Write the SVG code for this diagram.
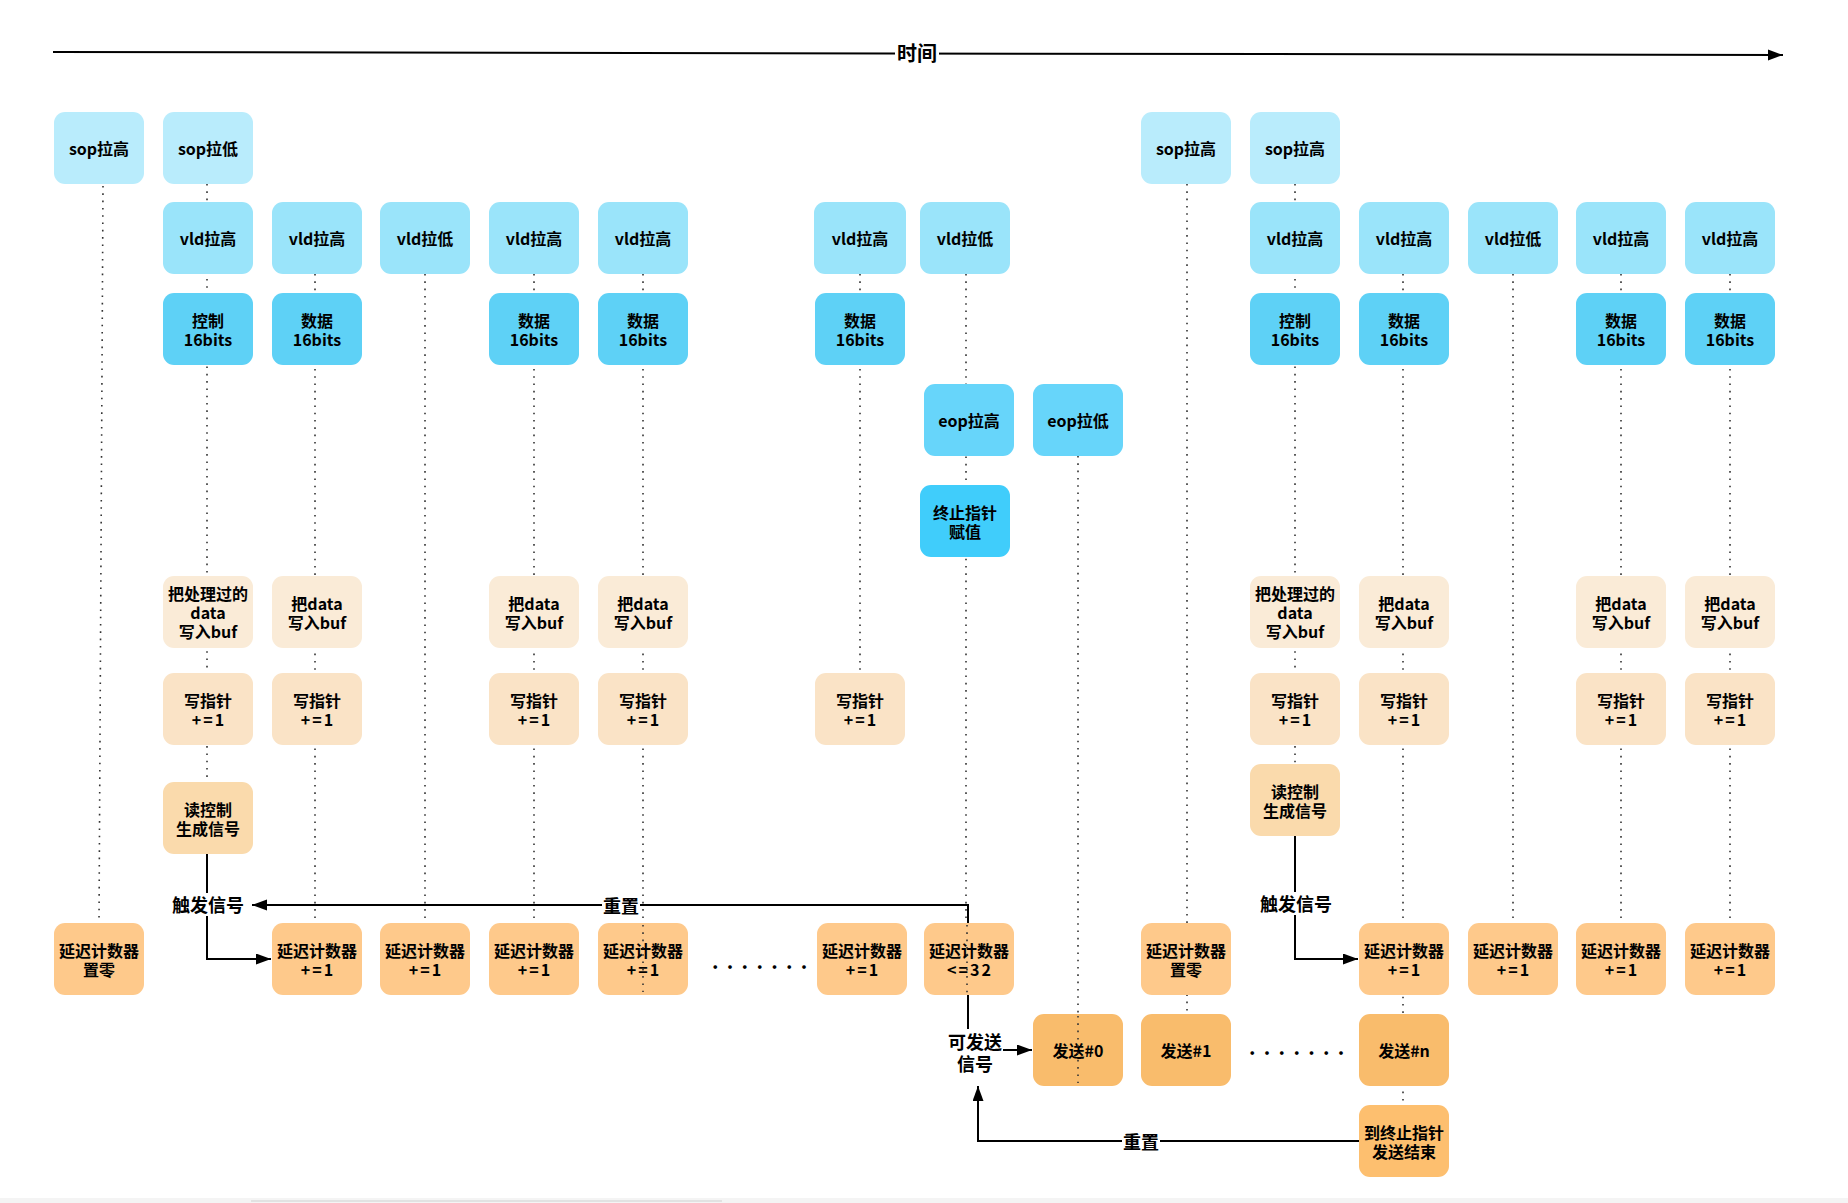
<svg xmlns="http://www.w3.org/2000/svg" width="1848" height="1203" viewBox="0 0 1848 1203">
  <style>
    .t { font-family: "Noto Sans CJK SC", "Noto Sans", sans-serif; font-size: 16px; font-weight: bold; fill: #000; text-anchor: middle; dominant-baseline: central; }
    .lbl { font-family: "Noto Sans CJK SC", "Noto Sans", sans-serif; font-size: 18px; font-weight: bold; fill: #000; text-anchor: middle; dominant-baseline: central; }
    .sp { letter-spacing: 2px; }
    .sop { fill: #b9ecfc; }
    .vld { fill: #9ae4fa; }
    .bits { fill: #5ed1f6; }
    .eop { fill: #67d5fa; }
    .endp { fill: #40cdfb; }
    .buf { fill: #faebd7; }
    .wp { fill: #fae3c6; }
    .rc { fill: #fadaac; }
    .dly { fill: #fec98b; }
    .send { fill: #f9bc6c; }
    .fin { fill: #fdbf6f; }
    .guide { fill: none; stroke: #333; stroke-width: 1.6; stroke-dasharray: 1.6 5.7; }
    .conn { fill: none; stroke: #000; stroke-width: 2; }
    .bg { fill: #fff; }
    .dots { font-family: "Noto Sans CJK SC", "Noto Sans", sans-serif; font-size: 20px; font-weight: bold; fill: #000; letter-spacing: 8.3px; dominant-baseline: central; }
  </style>
  <defs>
    <marker id="arrow" markerUnits="userSpaceOnUse" markerWidth="16" markerHeight="12" refX="15" refY="5.5" orient="auto">
      <path d="M0,0 L15,5.5 L0,11 Z" fill="#000"/>
    </marker>
  </defs>

  <rect width="1848" height="1203" fill="#fff"/>

  <!-- time axis -->
  <g id="time-axis">
    <line x1="53" y1="52" x2="1783" y2="55" class="conn" marker-end="url(#arrow)"/>
    <rect x="895" y="40" width="44" height="26" class="bg"/>
    <text x="917" y="52" class="lbl" style="font-size:20px">时间</text>
  </g>

  <!-- dotted timelines under the boxes -->
  <g id="timelines">
    <path class="guide" d="M103,186 L99,923"/>
    <path class="guide" d="M207,184 V782"/>
    <path class="guide" d="M315,274 V923"/>
    <path class="guide" d="M425,274 V923"/>
    <path class="guide" d="M534,274 V923"/>
    <path class="guide" d="M643,274 V923"/>
    <path class="guide" d="M860,274 V700"/>
    <path class="guide" d="M966,274 V923"/>
    <path class="guide" d="M1078,456 V1014"/>
    <path class="guide" d="M1187,184 V1014"/>
    <path class="guide" d="M1295,184 V764"/>
    <path class="guide" d="M1403,274 V1105"/>
    <path class="guide" d="M1513,274 V923"/>
    <path class="guide" d="M1621,274 V923"/>
    <path class="guide" d="M1730,274 V923"/>
  </g>

  <!-- connectors -->
  <g id="connectors">
    <path class="conn" d="M207,854 V959 H271" marker-end="url(#arrow)"/>
    <path class="conn" d="M968,1040 V905 H252" marker-end="url(#arrow)"/>
    <path class="conn" d="M968,996 V1050 H1032" marker-end="url(#arrow)"/>
    <path class="conn" d="M1295,836 V959 H1358" marker-end="url(#arrow)"/>
    <path class="conn" d="M1359,1141 H978 V1086" marker-end="url(#arrow)"/>
    <rect x="170" y="893" width="76" height="23" class="bg"/>
    <text x="208" y="904" class="lbl">触发信号</text>
    <rect x="602" y="894" width="38" height="22" class="bg"/>
    <text x="621" y="905" class="lbl">重置</text>
    <rect x="1258" y="892" width="76" height="23" class="bg"/>
    <text x="1296" y="903" class="lbl">触发信号</text>
    <rect x="1122" y="1130" width="38" height="22" class="bg"/>
    <text x="1141" y="1141" class="lbl">重置</text>
    <rect x="947" y="1029" width="56" height="46" class="bg"/>
    <text class="lbl" y="1041"><tspan x="975">可发送</tspan><tspan x="975" dy="22">信号</tspan></text>
  </g>

  <!-- row: sop -->
  <g id="sop-high-a"><rect class="sop" x="54" y="112" width="90" height="72" rx="11"/><text class="t" x="99" y="148">sop拉高</text></g>
  <g id="sop-low-a"><rect class="sop" x="163" y="112" width="90" height="72" rx="11"/><text class="t" x="208" y="148">sop拉低</text></g>
  <g id="sop-high-b"><rect class="sop" x="1141" y="112" width="90" height="72" rx="11"/><text class="t" x="1186" y="148">sop拉高</text></g>
  <g id="sop-high-c"><rect class="sop" x="1250" y="112" width="90" height="72" rx="11"/><text class="t" x="1295" y="148">sop拉高</text></g>

  <!-- row: vld -->
  <g id="vld-1"><rect class="vld" x="163" y="202" width="90" height="72" rx="11"/><text class="t" x="208" y="238">vld拉高</text></g>
  <g id="vld-2"><rect class="vld" x="272" y="202" width="90" height="72" rx="11"/><text class="t" x="317" y="238">vld拉高</text></g>
  <g id="vld-3"><rect class="vld" x="380" y="202" width="90" height="72" rx="11"/><text class="t" x="425" y="238">vld拉低</text></g>
  <g id="vld-4"><rect class="vld" x="489" y="202" width="90" height="72" rx="11"/><text class="t" x="534" y="238">vld拉高</text></g>
  <g id="vld-5"><rect class="vld" x="598" y="202" width="90" height="72" rx="11"/><text class="t" x="643" y="238">vld拉高</text></g>
  <g id="vld-6"><rect class="vld" x="814" y="202" width="92" height="72" rx="11"/><text class="t" x="860" y="238">vld拉高</text></g>
  <g id="vld-7"><rect class="vld" x="920" y="202" width="90" height="72" rx="11"/><text class="t" x="965" y="238">vld拉低</text></g>
  <g id="vld-8"><rect class="vld" x="1250" y="202" width="90" height="72" rx="11"/><text class="t" x="1295" y="238">vld拉高</text></g>
  <g id="vld-9"><rect class="vld" x="1359" y="202" width="90" height="72" rx="11"/><text class="t" x="1404" y="238">vld拉高</text></g>
  <g id="vld-10"><rect class="vld" x="1468" y="202" width="90" height="72" rx="11"/><text class="t" x="1513" y="238">vld拉低</text></g>
  <g id="vld-11"><rect class="vld" x="1576" y="202" width="90" height="72" rx="11"/><text class="t" x="1621" y="238">vld拉高</text></g>
  <g id="vld-12"><rect class="vld" x="1685" y="202" width="90" height="72" rx="11"/><text class="t" x="1730" y="238">vld拉高</text></g>

  <!-- row: 16-bit words -->
  <g id="word-1"><rect class="bits" x="163" y="293" width="90" height="72" rx="11"/><text class="t" y="319.5"><tspan x="208">控制</tspan><tspan x="208" dy="19">16bits</tspan></text></g>
  <g id="word-2"><rect class="bits" x="272" y="293" width="90" height="72" rx="11"/><text class="t" y="319.5"><tspan x="317">数据</tspan><tspan x="317" dy="19">16bits</tspan></text></g>
  <g id="word-3"><rect class="bits" x="489" y="293" width="90" height="72" rx="11"/><text class="t" y="319.5"><tspan x="534">数据</tspan><tspan x="534" dy="19">16bits</tspan></text></g>
  <g id="word-4"><rect class="bits" x="598" y="293" width="90" height="72" rx="11"/><text class="t" y="319.5"><tspan x="643">数据</tspan><tspan x="643" dy="19">16bits</tspan></text></g>
  <g id="word-5"><rect class="bits" x="815" y="293" width="90" height="72" rx="11"/><text class="t" y="319.5"><tspan x="860">数据</tspan><tspan x="860" dy="19">16bits</tspan></text></g>
  <g id="word-6"><rect class="bits" x="1250" y="293" width="90" height="72" rx="11"/><text class="t" y="319.5"><tspan x="1295">控制</tspan><tspan x="1295" dy="19">16bits</tspan></text></g>
  <g id="word-7"><rect class="bits" x="1359" y="293" width="90" height="72" rx="11"/><text class="t" y="319.5"><tspan x="1404">数据</tspan><tspan x="1404" dy="19">16bits</tspan></text></g>
  <g id="word-8"><rect class="bits" x="1576" y="293" width="90" height="72" rx="11"/><text class="t" y="319.5"><tspan x="1621">数据</tspan><tspan x="1621" dy="19">16bits</tspan></text></g>
  <g id="word-9"><rect class="bits" x="1685" y="293" width="90" height="72" rx="11"/><text class="t" y="319.5"><tspan x="1730">数据</tspan><tspan x="1730" dy="19">16bits</tspan></text></g>

  <!-- row: eop -->
  <g id="eop-high"><rect class="eop" x="924" y="384" width="90" height="72" rx="11"/><text class="t" x="969" y="420">eop拉高</text></g>
  <g id="eop-low"><rect class="eop" x="1033" y="384" width="90" height="72" rx="11"/><text class="t" x="1078" y="420">eop拉低</text></g>

  <!-- end pointer -->
  <g id="end-pointer"><rect class="endp" x="920" y="485" width="90" height="72" rx="11"/><text class="t" y="511.5"><tspan x="965">终止指针</tspan><tspan x="965" dy="19">赋值</tspan></text></g>

  <!-- row: write to buffer -->
  <g id="buf-1"><rect class="buf" x="163" y="576" width="90" height="72" rx="11"/><text class="t" y="593"><tspan x="208">把处理过的</tspan><tspan x="208" dy="19">data</tspan><tspan x="208" dy="19">写入buf</tspan></text></g>
  <g id="buf-2"><rect class="buf" x="272" y="576" width="90" height="72" rx="11"/><text class="t" y="602.5"><tspan x="317">把data</tspan><tspan x="317" dy="19">写入buf</tspan></text></g>
  <g id="buf-3"><rect class="buf" x="489" y="576" width="90" height="72" rx="11"/><text class="t" y="602.5"><tspan x="534">把data</tspan><tspan x="534" dy="19">写入buf</tspan></text></g>
  <g id="buf-4"><rect class="buf" x="598" y="576" width="90" height="72" rx="11"/><text class="t" y="602.5"><tspan x="643">把data</tspan><tspan x="643" dy="19">写入buf</tspan></text></g>
  <g id="buf-5"><rect class="buf" x="1250" y="576" width="90" height="72" rx="11"/><text class="t" y="593"><tspan x="1295">把处理过的</tspan><tspan x="1295" dy="19">data</tspan><tspan x="1295" dy="19">写入buf</tspan></text></g>
  <g id="buf-6"><rect class="buf" x="1359" y="576" width="90" height="72" rx="11"/><text class="t" y="602.5"><tspan x="1404">把data</tspan><tspan x="1404" dy="19">写入buf</tspan></text></g>
  <g id="buf-7"><rect class="buf" x="1576" y="576" width="90" height="72" rx="11"/><text class="t" y="602.5"><tspan x="1621">把data</tspan><tspan x="1621" dy="19">写入buf</tspan></text></g>
  <g id="buf-8"><rect class="buf" x="1685" y="576" width="90" height="72" rx="11"/><text class="t" y="602.5"><tspan x="1730">把data</tspan><tspan x="1730" dy="19">写入buf</tspan></text></g>

  <!-- row: write pointer -->
  <g id="wp-1"><rect class="wp" x="163" y="673" width="90" height="72" rx="11"/><text class="t" y="699.5"><tspan x="208">写指针</tspan><tspan class="sp" x="209" dy="19">+=1</tspan></text></g>
  <g id="wp-2"><rect class="wp" x="272" y="673" width="90" height="72" rx="11"/><text class="t" y="699.5"><tspan x="317">写指针</tspan><tspan class="sp" x="318" dy="19">+=1</tspan></text></g>
  <g id="wp-3"><rect class="wp" x="489" y="673" width="90" height="72" rx="11"/><text class="t" y="699.5"><tspan x="534">写指针</tspan><tspan class="sp" x="535" dy="19">+=1</tspan></text></g>
  <g id="wp-4"><rect class="wp" x="598" y="673" width="90" height="72" rx="11"/><text class="t" y="699.5"><tspan x="643">写指针</tspan><tspan class="sp" x="644" dy="19">+=1</tspan></text></g>
  <g id="wp-5"><rect class="wp" x="815" y="673" width="90" height="72" rx="11"/><text class="t" y="699.5"><tspan x="860">写指针</tspan><tspan class="sp" x="861" dy="19">+=1</tspan></text></g>
  <g id="wp-6"><rect class="wp" x="1250" y="673" width="90" height="72" rx="11"/><text class="t" y="699.5"><tspan x="1295">写指针</tspan><tspan class="sp" x="1296" dy="19">+=1</tspan></text></g>
  <g id="wp-7"><rect class="wp" x="1359" y="673" width="90" height="72" rx="11"/><text class="t" y="699.5"><tspan x="1404">写指针</tspan><tspan class="sp" x="1405" dy="19">+=1</tspan></text></g>
  <g id="wp-8"><rect class="wp" x="1576" y="673" width="90" height="72" rx="11"/><text class="t" y="699.5"><tspan x="1621">写指针</tspan><tspan class="sp" x="1622" dy="19">+=1</tspan></text></g>
  <g id="wp-9"><rect class="wp" x="1685" y="673" width="90" height="72" rx="11"/><text class="t" y="699.5"><tspan x="1730">写指针</tspan><tspan class="sp" x="1731" dy="19">+=1</tspan></text></g>

  <!-- read control -->
  <g id="read-ctrl-a"><rect class="rc" x="163" y="782" width="90" height="72" rx="11"/><text class="t" y="808.5"><tspan x="208">读控制</tspan><tspan x="208" dy="19">生成信号</tspan></text></g>
  <g id="read-ctrl-b"><rect class="rc" x="1250" y="764" width="90" height="72" rx="11"/><text class="t" y="790.5"><tspan x="1295">读控制</tspan><tspan x="1295" dy="19">生成信号</tspan></text></g>

  <!-- row: delay counter -->
  <g id="dly-clr-a"><rect class="dly" x="54" y="923" width="90" height="72" rx="11"/><text class="t" y="949.5"><tspan x="99">延迟计数器</tspan><tspan x="99" dy="19">置零</tspan></text></g>
  <g id="dly-1"><rect class="dly" x="272" y="923" width="90" height="72" rx="11"/><text class="t" y="949.5"><tspan x="317">延迟计数器</tspan><tspan class="sp" x="318" dy="19">+=1</tspan></text></g>
  <g id="dly-2"><rect class="dly" x="380" y="923" width="90" height="72" rx="11"/><text class="t" y="949.5"><tspan x="425">延迟计数器</tspan><tspan class="sp" x="426" dy="19">+=1</tspan></text></g>
  <g id="dly-3"><rect class="dly" x="489" y="923" width="90" height="72" rx="11"/><text class="t" y="949.5"><tspan x="534">延迟计数器</tspan><tspan class="sp" x="535" dy="19">+=1</tspan></text></g>
  <g id="dly-4"><rect class="dly" x="598" y="923" width="90" height="72" rx="11"/><text class="t" y="949.5"><tspan x="643">延迟计数器</tspan><tspan class="sp" x="644" dy="19">+=1</tspan></text></g>
  <g id="dly-5"><rect class="dly" x="817" y="923" width="90" height="72" rx="11"/><text class="t" y="949.5"><tspan x="862">延迟计数器</tspan><tspan class="sp" x="863" dy="19">+=1</tspan></text></g>
  <g id="dly-limit"><rect class="dly" x="924" y="923" width="90" height="72" rx="11"/><text class="t" y="949.5"><tspan x="969">延迟计数器</tspan><tspan class="sp" x="970" dy="19">&lt;=32</tspan></text></g>
  <g id="dly-clr-b"><rect class="dly" x="1141" y="923" width="90" height="72" rx="11"/><text class="t" y="949.5"><tspan x="1186">延迟计数器</tspan><tspan x="1186" dy="19">置零</tspan></text></g>
  <g id="dly-6"><rect class="dly" x="1359" y="923" width="90" height="72" rx="11"/><text class="t" y="949.5"><tspan x="1404">延迟计数器</tspan><tspan class="sp" x="1405" dy="19">+=1</tspan></text></g>
  <g id="dly-7"><rect class="dly" x="1468" y="923" width="90" height="72" rx="11"/><text class="t" y="949.5"><tspan x="1513">延迟计数器</tspan><tspan class="sp" x="1514" dy="19">+=1</tspan></text></g>
  <g id="dly-8"><rect class="dly" x="1576" y="923" width="90" height="72" rx="11"/><text class="t" y="949.5"><tspan x="1621">延迟计数器</tspan><tspan class="sp" x="1622" dy="19">+=1</tspan></text></g>
  <g id="dly-9"><rect class="dly" x="1685" y="923" width="90" height="72" rx="11"/><text class="t" y="949.5"><tspan x="1730">延迟计数器</tspan><tspan class="sp" x="1731" dy="19">+=1</tspan></text></g>
  <text class="dots" x="712" y="960">.......</text>

  <!-- row: send -->
  <g id="send-0"><rect class="send" x="1033" y="1014" width="90" height="72" rx="11"/><text class="t" x="1078" y="1050">发送#0</text></g>
  <g id="send-1"><rect class="send" x="1141" y="1014" width="90" height="72" rx="11"/><text class="t" x="1186" y="1050">发送#1</text></g>
  <g id="send-n"><rect class="send" x="1359" y="1014" width="90" height="72" rx="11"/><text class="t" x="1404" y="1050">发送#n</text></g>
  <text class="dots" x="1249" y="1046">.......</text>

  <!-- send finished -->
  <g id="send-done"><rect class="fin" x="1359" y="1105" width="90" height="72" rx="11"/><text class="t" y="1131.5"><tspan x="1404">到终止指针</tspan><tspan x="1404" dy="19">发送结束</tspan></text></g>

  <!-- timelines drawn across boxes -->
  <g id="timelines-over">
    <path class="guide" d="M643,925 V992"/>
    <path class="guide" d="M967,925 V997"/>
    <path class="guide" d="M1078,1016 V1083"/>
  </g>

  <!-- bottom strip -->
  <rect x="0" y="1198" width="1848" height="5" fill="#f4f4f4"/>
  <rect x="251" y="1200" width="471" height="2" fill="#e2e2e2"/>
</svg>
